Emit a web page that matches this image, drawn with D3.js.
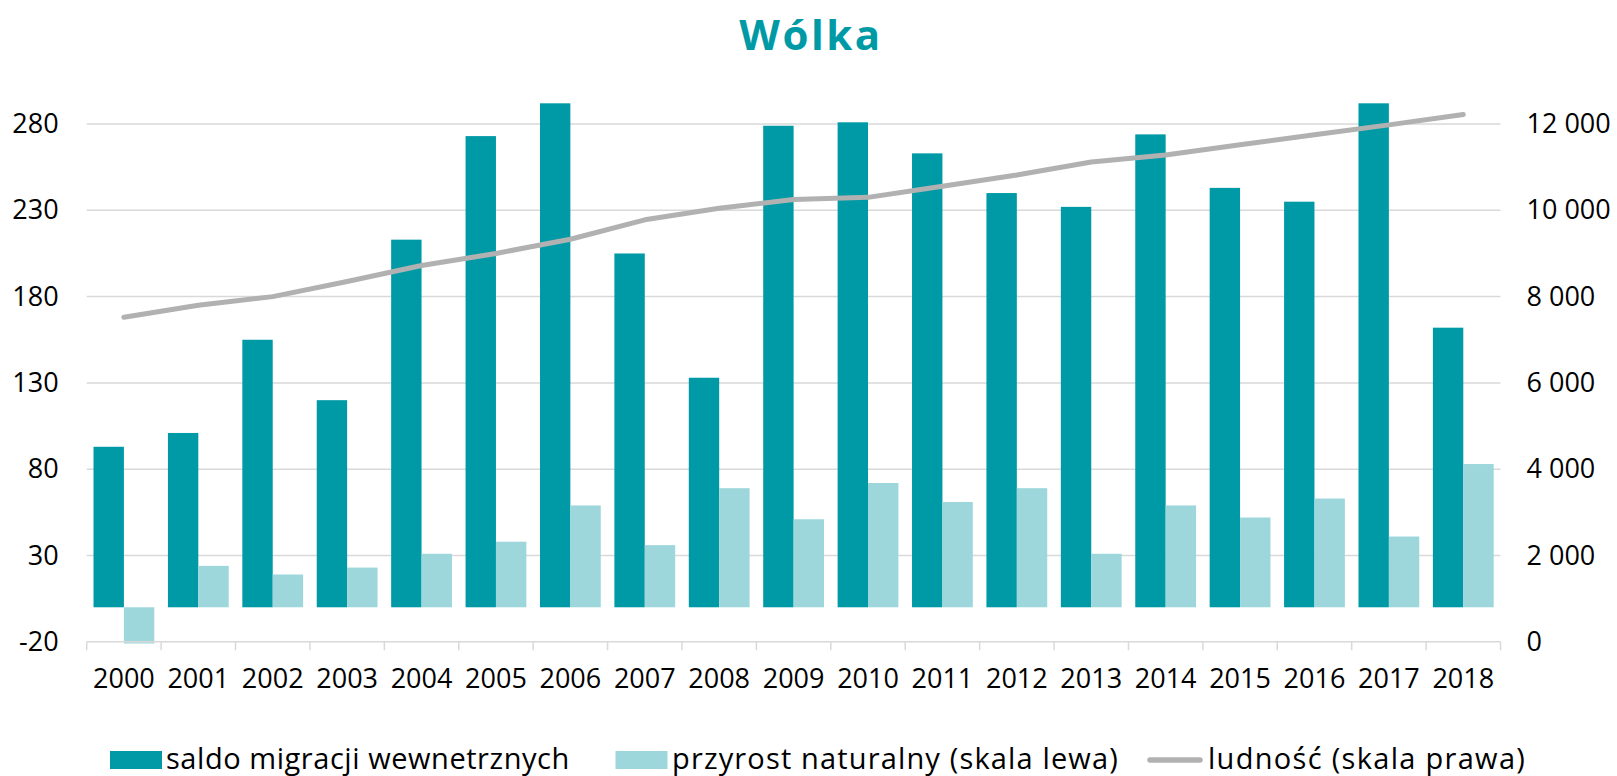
<!DOCTYPE html>
<html>
<head>
<meta charset="utf-8">
<script src="https://cdn.jsdelivr.net/npm/d3@7"></script>
<style>
  html, body { margin: 0; padding: 0; background: #fff; }
  svg { display: block; }
  text { font-family: "Open Sans", "Noto Sans", sans-serif; fill: #000; }
</style>
</head>
<body>
<svg id="chart" width="1617" height="776"></svg>
<script>
// Wólka: internal migration balance, natural increase and population, 2000–2018
const years = ["2000","2001","2002","2003","2004","2005","2006","2007","2008","2009",
               "2010","2011","2012","2013","2014","2015","2016","2017","2018"];
const migration = [93, 101, 155, 120, 213, 273, 292, 205, 133, 279,
                   281, 263, 240, 232, 274, 243, 235, 292, 162];
const naturalIncrease = [-21, 24, 19, 23, 31, 38, 59, 36, 69, 51,
                         72, 61, 69, 31, 59, 52, 63, 41, 83];
const population = [7520, 7800, 8000, 8350, 8720, 9000, 9330, 9780, 10050, 10250,
                    10300, 10560, 10820, 11120, 11280, 11520, 11750, 11980, 12220];
const leftTicks = [-20, 30, 80, 130, 180, 230, 280];
const rightTicks = [0, 2000, 4000, 6000, 8000, 10000, 12000];
const seriesNames = ["saldo migracji wewnetrznych", "przyrost naturalny (skala lewa)", "ludność (skala prawa)"];
const titleText = "Wólka";

const colDark = "#009aa6", colLight = "#9dd7db", colLine = "#b1b1b1", colGrid = "#d9d9d9";

const svg = d3.select("#chart");
const plot = { left: 86.7, right: 1500.5, top: 89.5, bottom: 641.8 };

const x0 = d3.scaleBand().domain(years).range([plot.left, plot.right]);
const x1 = d3.scaleBand().domain(["m", "p"]).range([0, x0.bandwidth()]).paddingOuter(0.224);
const yL = d3.scaleLinear().domain([-20, 300]).range([plot.bottom, plot.top]);
const yR = d3.scaleLinear().domain([0, 12800]).range([plot.bottom, plot.top]);

const pl = d3.formatLocale({ decimal: ",", thousands: " ", grouping: [3], currency: ["", ""], minus: "-" });
const fmtR = pl.format(",d");
const fmtL = pl.format("d");

// title
svg.append("text")
  .attr("x", 811).attr("y", 49.5)
  .attr("text-anchor", "middle")
  .style("font-size", "42px").style("font-weight", 700)
  .style("letter-spacing", "2.5px")
  .style("fill", colDark)
  .text(titleText);

// gridlines
svg.append("g").selectAll("line").data(leftTicks.filter(t => t !== -20)).join("line")
  .attr("x1", plot.left).attr("x2", plot.right)
  .attr("y1", d => yL(d)).attr("y2", d => yL(d))
  .attr("stroke", colGrid).attr("stroke-width", 1.5);

// left axis labels
const gL = svg.append("g").attr("transform", `translate(${plot.left - 28},0)`)
  .call(d3.axisLeft(yL).tickValues(leftTicks).tickFormat(fmtL).tickSize(0).tickPadding(0));
gL.select(".domain").remove();
gL.selectAll("text").style("font-size", "27px").style("font-family", "Open Sans");

// right axis labels
const gR = svg.append("g").attr("transform", `translate(${plot.right + 26},0)`)
  .call(d3.axisRight(yR).tickValues(rightTicks).tickFormat(fmtR).tickSize(0).tickPadding(0));
gR.select(".domain").remove();
gR.selectAll("text").style("font-size", "27px").style("font-family", "Open Sans");

// bars
const groups = svg.append("g").selectAll("g").data(years).join("g")
  .attr("transform", d => `translate(${x0(d)},0)`);
groups.append("rect")
  .attr("x", x1("m")).attr("width", x1.bandwidth())
  .attr("y", (d, i) => yL(Math.max(0, migration[i])))
  .attr("height", (d, i) => Math.abs(yL(migration[i]) - yL(0)))
  .attr("fill", colDark);
groups.append("rect")
  .attr("x", x1("p")).attr("width", x1.bandwidth())
  .attr("y", (d, i) => yL(Math.max(0, naturalIncrease[i])))
  .attr("height", (d, i) => Math.abs(yL(naturalIncrease[i]) - yL(0)))
  .attr("fill", colLight);

// x axis line and ticks
const gX = svg.append("g").attr("transform", `translate(0,${plot.bottom})`);
gX.append("line").attr("x1", plot.left).attr("x2", plot.right)
  .attr("stroke", colGrid).attr("stroke-width", 1.5);
const bounds = years.map(y => x0(y)).concat([plot.right]);
gX.selectAll("line.tk").data(bounds).join("line").attr("class", "tk")
  .attr("x1", d => d).attr("x2", d => d).attr("y1", 0).attr("y2", 8.5)
  .attr("stroke", colGrid).attr("stroke-width", 1.5);
gX.selectAll("text").data(years).join("text")
  .attr("x", d => x0(d) + x0.bandwidth() / 2).attr("y", 46)
  .attr("text-anchor", "middle")
  .style("font-size", "27px")
  .text(d => d);

// population line
const line = d3.line()
  .x((d, i) => x0(years[i]) + x0.bandwidth() / 2)
  .y(d => yR(d));
svg.append("path").datum(population)
  .attr("d", line)
  .attr("fill", "none").attr("stroke", colLine)
  .attr("stroke-width", 5).attr("stroke-linecap", "round").attr("stroke-linejoin", "round");

// legend
const lg = svg.append("g").style("font-size", "29px");
lg.append("rect").attr("x", 110).attr("y", 751).attr("width", 52).attr("height", 18).attr("fill", colDark);
lg.append("text").attr("x", 166).attr("y", 769).style("letter-spacing", "0.55px").text(seriesNames[0]);
lg.append("rect").attr("x", 615.5).attr("y", 751).attr("width", 52).attr("height", 18).attr("fill", colLight);
lg.append("text").attr("x", 672).attr("y", 769).style("letter-spacing", "1.15px").text(seriesNames[1]);
lg.append("line").attr("x1", 1150).attr("x2", 1200).attr("y1", 760).attr("y2", 760)
  .attr("stroke", colLine).attr("stroke-width", 5.5).attr("stroke-linecap", "round");
lg.append("text").attr("x", 1208).attr("y", 769).style("letter-spacing", "1.3px").text(seriesNames[2]);
</script>
</body>
</html>
